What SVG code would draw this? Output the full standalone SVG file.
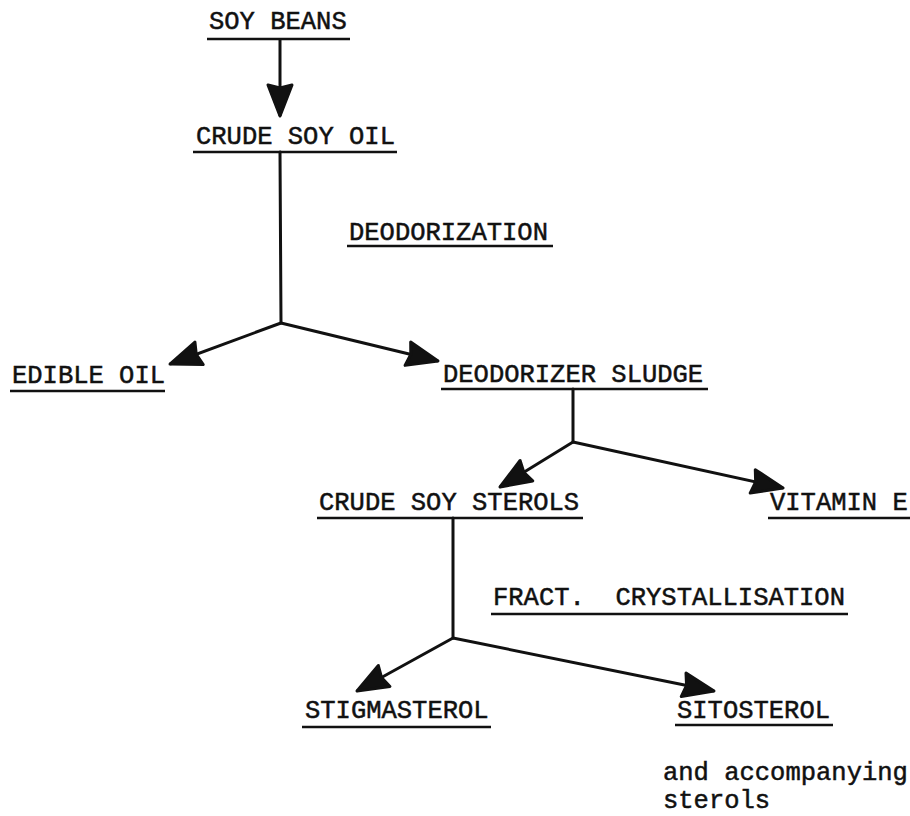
<svg xmlns="http://www.w3.org/2000/svg" width="910" height="816" viewBox="0 0 910 816">
<style>
  text { font-family: "Liberation Mono", "Courier New", monospace; font-size: 25.5px; fill: #111; stroke: #111; stroke-width: 0.5; white-space: pre; }
  .ul { stroke: #111; stroke-width: 2.5; fill: none; }
  .conn { stroke: #111; stroke-width: 3; fill: none; stroke-linecap: round; }
  .link { stroke: #111; stroke-width: 3; fill: none; marker-end: url(#arrow); }
</style>
<defs>
  <marker id="arrow" markerUnits="userSpaceOnUse" viewBox="0 0 36 28" refX="34" refY="14" markerWidth="36" markerHeight="28" orient="auto">
    <path d="M3,2 L34,14 L3,26 L6,14 Z" fill="#111" stroke="#111" stroke-width="3" stroke-linejoin="round"/>
  </marker>
</defs>
<rect width="910" height="816" fill="#fff"/>

<g id="connectors">
  <line class="link" x1="280" y1="39" x2="280" y2="116"/>
  <polyline class="conn" points="280,152 281,323"/>
  <line class="link" x1="281" y1="323" x2="170" y2="364"/>
  <line class="link" x1="281" y1="323" x2="438" y2="361"/>
  <line class="conn" x1="573" y1="389" x2="573" y2="442"/>
  <line class="link" x1="573" y1="442" x2="500" y2="487"/>
  <line class="link" x1="573" y1="442" x2="783" y2="488"/>
  <line class="conn" x1="453" y1="518" x2="453" y2="638"/>
  <line class="link" x1="453" y1="638" x2="357" y2="691"/>
  <line class="link" x1="453" y1="638" x2="714" y2="691"/>
</g>

<g id="soy-beans">
  <text x="209" y="29">SOY BEANS</text>
  <line class="ul" x1="207" y1="39" x2="350" y2="39"/>
</g>
<g id="crude-soy-oil">
  <text x="196" y="144">CRUDE SOY OIL</text>
  <line class="ul" x1="193" y1="152" x2="397" y2="152"/>
</g>
<g id="label-deodorization">
  <text x="349" y="240">DEODORIZATION</text>
  <line class="ul" x1="347" y1="246" x2="553" y2="246"/>
</g>
<g id="edible-oil">
  <text x="12" y="383">EDIBLE OIL</text>
  <line class="ul" x1="10" y1="391" x2="165" y2="391"/>
</g>
<g id="deodorizer-sludge">
  <text x="443" y="382">DEODORIZER SLUDGE</text>
  <line class="ul" x1="441" y1="389" x2="708" y2="389"/>
</g>
<g id="crude-soy-sterols">
  <text x="319" y="510">CRUDE SOY STEROLS</text>
  <line class="ul" x1="317" y1="518" x2="583" y2="518"/>
</g>
<g id="vitamin-e">
  <text x="770" y="510">VITAMIN E</text>
  <line class="ul" x1="768" y1="518" x2="910" y2="518"/>
</g>
<g id="label-fract-crystallisation">
  <text x="493" y="605">FRACT.  CRYSTALLISATION</text>
  <line class="ul" x1="491" y1="614" x2="848" y2="614"/>
</g>
<g id="stigmasterol">
  <text x="305" y="718">STIGMASTEROL</text>
  <line class="ul" x1="302" y1="727" x2="491" y2="727"/>
</g>
<g id="sitosterol">
  <text x="677" y="718">SITOSTEROL</text>
  <line class="ul" x1="675" y1="725" x2="833" y2="725"/>
  <text x="663" y="780">and accompanying</text>
  <text x="663" y="808">sterols</text>
</g>
</svg>
